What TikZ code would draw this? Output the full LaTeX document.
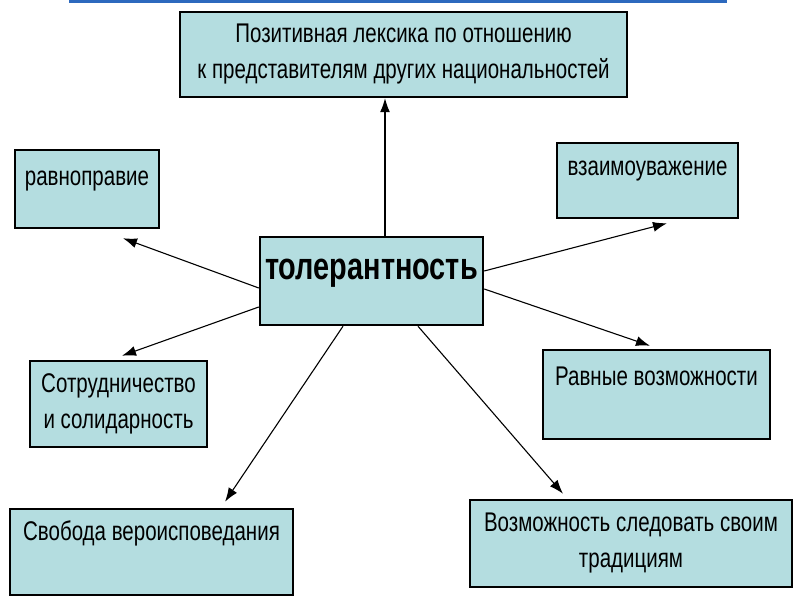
\documentclass[tikz,border=0pt]{standalone}
\usepackage{fontspec}
\setmainfont{Liberation Sans}
\newfontfamily\narrowfont[FakeStretch=0.76]{Liberation Sans}
\usepackage{tikz}
\usetikzlibrary{arrows.meta}
\usepackage{xcolor}
\definecolor{boxfill}{RGB}{180,221,224}
\definecolor{barblue}{RGB}{45,105,190}

\begin{document}
\begin{tikzpicture}[x=1pt,y=1pt,
  box/.style={draw=black, line width=2.5pt, fill=boxfill, inner sep=0pt, align=center,
    font=\narrowfont\fontsize{27}{36}\selectfont},
  arr/.style={-{Latex[length=14pt,width=10pt]}, line width=1.1pt}]
\useasboundingbox (0,0) rectangle (800,600);

% blue bar at the top edge
\fill[barblue] (69,597) rectangle (727,600);

% centre box
\node[box, minimum width=223, minimum height=88, text height=27pt, text depth=30pt,
  font=\narrowfont\bfseries\fontsize{38}{40}\selectfont] (tol) at (371.5,319) {толерантность};

% outer boxes
\node[box, minimum width=447, minimum height=85] (lex) at (403.5,545.5)
  {Позитивная лексика по отношению\\к представителям других национальностей};
\node[box, minimum width=144, minimum height=78, text height=19pt, text depth=26pt] (rav) at (87,411) {равноправие};
\node[box, minimum width=181, minimum height=75, text height=19pt, text depth=29pt] (vza) at (647.5,419.5) {взаимоуважение};
\node[box, minimum width=177, minimum height=86] (sot) at (118.5,196) {Сотрудничество\\и солидарность};
\node[box, minimum width=227, minimum height=89, text height=19pt, text depth=37pt] (rvn) at (656.5,205.5) {Равные возможности};
\node[box, minimum width=283, minimum height=86, text height=19pt, text depth=42pt] (svo) at (151.5,48) {Свобода вероисповедания};
\node[box, minimum width=322, minimum height=87] (voz) at (631,56.5) {Возможность следовать своим\\традициям};

% arrows from the centre
\draw[arr] ([xshift=13.5pt]tol.north) -- ([xshift=13.5pt]tol.north |- lex.south);
\draw[arr] ([yshift=-7pt]tol.west) -- ([xshift=36pt,yshift=-9pt]rav.south);
\draw[arr] ([yshift=-26pt]tol.west) -- ([xshift=3.5pt,yshift=4pt]sot.north);
\draw[arr] ([yshift=10pt]tol.east) -- ([xshift=19.5pt,yshift=-4pt]vza.south);
\draw[arr] ([yshift=-8pt]tol.east) -- ([xshift=-6.5pt,yshift=3pt]rvn.north);
\draw[arr] ([xshift=-28.5pt]tol.south) -- ([xshift=73.5pt,yshift=6pt]svo.north);
\draw[arr] ([xshift=46.5pt]tol.south) -- ([xshift=-68pt,yshift=5pt]voz.north);
\end{tikzpicture}
\end{document}
